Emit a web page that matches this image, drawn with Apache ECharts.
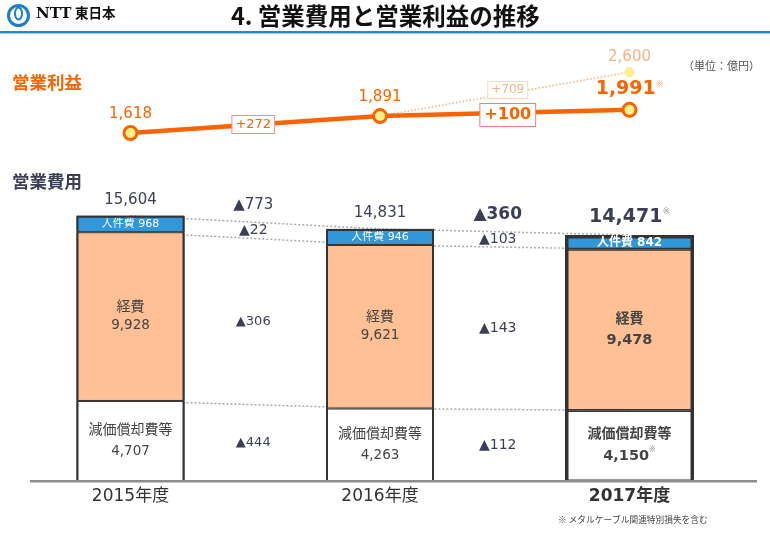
<!doctype html>
<html>
<head>
<meta charset="utf-8" />
<script src="https://cdn.jsdelivr.net/npm/echarts@6/dist/echarts.min.js"></script>
<style>
html, body { margin: 0; padding: 0; background: #fff; }
#chart { width: 770px; height: 533px; }
</style>
</head>
<body>
<div id="chart"></div>
<script>
const fiscalYears = ['2015年度', '2016年度', '2017年度'];

const profit = [1618, 1891, 1991];
const profitTarget = [null, 1891, 2600];
const profitChange = [272, 100];
const targetChange = 709;

const totalCost = [15604, 14831, 14471];
const staffCost = [968, 946, 842];
const expense = [9928, 9621, 9478];
const depreciation = [4707, 4263, 4150];

const totalChange = [773, 360];
const staffChange = [22, 103];
const expenseChange = [306, 143];
const depreciationChange = [444, 112];

const FONT = '"DejaVu Sans", "Noto Sans CJK JP", sans-serif';
const ORANGE = '#f96400';
const PALE_ORANGE = '#fbb07a';
const NAVY = '#3a3f55';
const GAP_POS = [1, 2]; // the space between two category bands on the 0-3 value axes
const GAP_NUDGE = [-2, -7];
const BAR_WIDTH = 108;
const BAR_WIDTH_LAST = 129;

const fmt = v => v.toLocaleString('en-US');
const mean = (a, b) => (a + b) / 2;

// cumulative heights of the stack, used for connectors and the ▲ labels
const expenseTop = depreciation.map((v, i) => v + expense[i]);
const staffTop = expenseTop.map((v, i) => v + staffCost[i]);

function gapData(values, heightAt, size, bold) {
    return values.map((v, i) => ({
        value: [GAP_POS[i], heightAt(i)],
        change: v,
        label: {
            show: true, position: 'inside', offset: [GAP_NUDGE[i], 0], fontFamily: FONT, color: NAVY,
            fontSize: size(i), fontWeight: bold(i) ? 'bold' : 'normal',
            formatter: '▲' + fmt(v)
        }
    }));
}

function gapSeries(data) {
    return {
        type: 'scatter', xAxisIndex: 4, yAxisIndex: 1, symbolSize: 1, z: 6, silent: true,
        itemStyle: { color: 'transparent', opacity: 1 }, data: data
    };
}

function connector(values) {
    return {
        type: 'line', xAxisIndex: 2, yAxisIndex: 1, data: values, symbol: 'none', z: 1, silent: true,
        lineStyle: { color: '#aaa', width: 1.5, type: [2, 2] }
    };
}

function costBars(yearIdx, name, values, fill, barLabel, axisIdx, width, border) {
    return {
        type: 'bar', xAxisIndex: axisIdx, yAxisIndex: 1, stack: 'cost' + axisIdx, barWidth: width, z: 2,
        name: name,
        data: values.map((v, i) => yearIdx.includes(i) ? v : null),
        itemStyle: { color: fill, borderColor: '#333', borderWidth: border },
        label: barLabel
    };
}

// heavier outer edge around each stack, open at the bottom where the baseline runs
function renderFrame(params, api) {
    const i = api.value(0);
    const base = api.coord([i, 0]);
    const top = api.coord([i, api.value(1)]);
    const lineWidth = i === 2 ? 3.5 : 2;
    const half = (i === 2 ? BAR_WIDTH_LAST : BAR_WIDTH) / 2 - lineWidth / 2;
    return {
        type: 'polyline',
        shape: {
            points: [
                [base[0] - half, base[1]],
                [base[0] - half, top[1] + lineWidth / 2],
                [base[0] + half, top[1] + lineWidth / 2],
                [base[0] + half, base[1]]
            ]
        },
        style: { fill: 'none', stroke: '#333', lineWidth: lineWidth }
    };
}

const staffLabel = { show: true, position: 'inside', color: '#fff', fontFamily: FONT, fontSize: 11,
    formatter: p => '人件費 ' + fmt(p.value) };

function stackedLabel(title, bold, gap, note) {
    const w = bold ? 'bold' : 'normal';
    return {
        show: true, position: 'inside', fontFamily: FONT,
        formatter: p => '{t|' + title + '}\n{n|' + fmt(p.value) + '}' + (note ? '{s|※}' : ''),
        rich: {
            t: { fontFamily: FONT, fontSize: 14, fontWeight: w, color: '#444', lineHeight: gap },
            n: { fontFamily: FONT, fontSize: bold ? 14.5 : 13.5, fontWeight: w, color: '#444', lineHeight: gap },
            s: { fontFamily: FONT, fontSize: 8, color: '#999', verticalAlign: 'top', lineHeight: gap }
        }
    };
}

function changeBox(pos, height, text, color, border, size, bold, offset) {
    return {
        value: [pos, height],
        label: {
            show: true, position: 'inside', offset: offset, formatter: text, color: color, fontFamily: FONT, fontSize: size,
            fontWeight: bold ? 'bold' : 'normal', backgroundColor: '#fff', borderColor: border, borderWidth: 1,
            padding: bold ? [3, 4] : [2, 3]
        }
    };
}

const option = {
    animation: false,
    backgroundColor: '#fff',
    textStyle: { fontFamily: FONT },
    grid: [
        { left: 5.75, width: 748.5, top: 47.3, height: 124 },
        { left: 5.75, width: 748.5, top: 192, height: 289 }
    ],
    xAxis: [
        { type: 'category', gridIndex: 0, data: fiscalYears, show: false },
        { type: 'value', gridIndex: 0, min: 0, max: 3, show: false },
        {
            type: 'category', gridIndex: 1, data: fiscalYears,
            axisLine: { show: false }, axisTick: { show: false },
            axisLabel: {
                margin: 7, color: '#333', fontFamily: FONT, fontSize: 17,
                formatter: (v, i) => i === 2 ? '{b|' + v + '}' : v,
                rich: { b: { fontFamily: FONT, fontSize: 17, fontWeight: 'bold', color: '#333' } }
            }
        },
        { type: 'category', gridIndex: 1, data: fiscalYears, show: false },
        { type: 'value', gridIndex: 1, min: 0, max: 3, show: false }
    ],
    yAxis: [
        { type: 'value', gridIndex: 0, min: 1000, max: 3000, show: false },
        { type: 'value', gridIndex: 1, min: 0, max: 17000, show: false }
    ],
    series: [
        // 営業利益
        {
            type: 'line', xAxisIndex: 0, yAxisIndex: 0, data: profitTarget, z: 2, silent: true,
            lineStyle: { color: PALE_ORANGE, width: 1.5, type: [1.5, 2] },
            symbol: (v, p) => p.dataIndex === 2 ? 'circle' : 'none', symbolSize: 9,
            itemStyle: { color: '#fff08a', borderColor: '#fbd27a', borderWidth: 1, borderType: 'dotted' },
            label: {
                show: true, position: 'top', distance: 2, color: PALE_ORANGE, fontFamily: FONT, fontSize: 15,
                formatter: p => p.dataIndex === 2 ? fmt(p.value) : ''
            }
        },
        {
            type: 'line', xAxisIndex: 0, yAxisIndex: 0, data: profit, z: 3, silent: true,
            lineStyle: { color: ORANGE, width: 4.5 },
            symbol: 'circle', symbolSize: 13,
            itemStyle: { color: '#fff08a', borderColor: ORANGE, borderWidth: 3 },
            label: {
                show: true, position: 'top', distance: 3, color: ORANGE, fontFamily: FONT, fontSize: 15,
                formatter: p => p.dataIndex === 2 ? '{b|' + fmt(p.value) + '}{s|※}' : fmt(p.value),
                rich: {
                    b: { fontFamily: FONT, fontSize: 19, fontWeight: 'bold', color: ORANGE },
                    s: { fontFamily: FONT, fontSize: 9, color: PALE_ORANGE, verticalAlign: 'top' }
                }
            }
        },
        {
            type: 'scatter', xAxisIndex: 1, yAxisIndex: 0, symbolSize: 1, z: 5, silent: true,
            itemStyle: { color: 'transparent', opacity: 1 },
            data: [
                changeBox(GAP_POS[0], mean(profit[0], profit[1]), '+' + profitChange[0], ORANGE, '#f08f88', 13, false, [-2, 0]),
                changeBox(GAP_POS[1], mean(profit[1], profit[2]), '+' + profitChange[1], ORANGE, '#ee7f78', 16, true, [3, 2]),
                changeBox(GAP_POS[1], mean(profitTarget[1], profitTarget[2]), '+' + targetChange, PALE_ORANGE, '#fbd6b8', 12, false, [3, -4])
            ]
        },

        // 営業費用: dotted connectors sit behind the bars
        connector(depreciation),
        connector(expenseTop),
        connector(staffTop),

        costBars([0, 1], '減価償却費等', depreciation, '#fff', stackedLabel('減価償却費等', false, 21), 2, BAR_WIDTH, 1),
        costBars([0, 1], '経費', expense, '#fec094', stackedLabel('経費', false, 18), 2, BAR_WIDTH, 1),
        costBars([0, 1], '人件費', staffCost, '#3097db', staffLabel, 2, BAR_WIDTH, 1),

        costBars([2], '減価償却費等', depreciation, '#fff', stackedLabel('減価償却費等', true, 22, true), 3, BAR_WIDTH_LAST, 1.5),
        costBars([2], '経費', expense, '#fec094', stackedLabel('経費', true, 21), 3, BAR_WIDTH_LAST, 1.5),
        costBars([2], '人件費', staffCost, '#3097db', { show: false }, 3, BAR_WIDTH_LAST, 1.5),

        {
            type: 'custom', xAxisIndex: 2, yAxisIndex: 1, z: 3, silent: true, renderItem: renderFrame,
            encode: { x: 0, y: 1 },
            data: staffTop.map((v, i) => [fiscalYears[i], v])
        },

        // 2017 label goes over the heavy frame, the band is thinner than the text
        {
            type: 'scatter', xAxisIndex: 2, yAxisIndex: 1, symbolSize: 1, z: 6, silent: true,
            itemStyle: { color: 'transparent', opacity: 1 },
            data: [[fiscalYears[2], expenseTop[2] + staffCost[2] / 2]],
            label: {
                show: true, position: 'inside', offset: [0, 1], color: '#fff', fontFamily: FONT, fontSize: 12, fontWeight: 'bold',
                formatter: '人件費 ' + fmt(staffCost[2])
            }
        },

        // totals above the stacks
        {
            type: 'scatter', xAxisIndex: 2, yAxisIndex: 1, symbolSize: 1, z: 6, silent: true, data: totalCost,
            itemStyle: { color: 'transparent', opacity: 1 },
            label: {
                show: true, position: 'top', distance: 8, color: NAVY, fontFamily: FONT, fontSize: 15,
                formatter: p => p.dataIndex === 2 ? '{b|' + fmt(p.value) + '}{s|※}' : fmt(p.value),
                rich: {
                    b: { fontFamily: FONT, fontSize: 19, fontWeight: 'bold', color: NAVY },
                    s: { fontFamily: FONT, fontSize: 9, color: '#999', verticalAlign: 'top' }
                }
            }
        },

        // ▲ differences, halfway between the segments they compare
        gapSeries(gapData(totalChange, i => mean(staffTop[i], staffTop[i + 1]) + 1000, i => i === 1 ? 17 : 15, i => i === 1)),
        gapSeries(gapData(staffChange, i => mean(expenseTop[i] + staffCost[i] / 2, expenseTop[i + 1] + staffCost[i + 1] / 2), () => 14, () => false)),
        gapSeries(gapData(expenseChange, i => mean(depreciation[i] + expense[i] / 2, depreciation[i + 1] + expense[i + 1] / 2), i => i === 0 ? 13 : 14, () => false)),
        gapSeries(gapData(depreciationChange, i => mean(depreciation[i], depreciation[i + 1]) / 2, i => i === 0 ? 13 : 14, () => false))
    ],
    graphic: [
        // header
        { type: 'ring', shape: { cx: 18.5, cy: 15.5, r: 11.5, r0: 8.5 }, style: { fill: '#1f7fc4' } },
        { type: 'ellipse', shape: { cx: 18.5, cy: 13.5, rx: 3.5, ry: 6 }, style: { fill: 'none', stroke: '#1f7fc4', lineWidth: 2 } },
        { type: 'text', x: 36, y: 7, style: { text: 'NTT', fontFamily: '"DejaVu Serif"', fontWeight: 'bold', fontSize: 15, fill: '#111' } },
        { type: 'text', x: 75, y: 6, style: { text: '東日本', fontFamily: '"Noto Sans CJK JP"', fontWeight: 'bold', fontSize: 13.5, fill: '#111' } },
        { type: 'text', x: 231, y: 4, style: { text: '4. 営業費用と営業利益の推移', fontFamily: '"Noto Sans CJK JP"', fontWeight: 'bold', fontSize: 23.5, fill: '#111' } },
        { type: 'rect', shape: { x: 0, y: 31, width: 770, height: 2 }, style: { fill: '#2a86c8' } },
        { type: 'rect', shape: { x: 0, y: 33, width: 770, height: 1 }, style: { fill: '#bbb' } },

        // section titles and notes
        { type: 'text', x: 12, y: 74, style: { text: '営業利益', fontFamily: '"Noto Sans CJK JP"', fontWeight: 'bold', fontSize: 17.5, fill: ORANGE } },
        { type: 'text', x: 12, y: 173, style: { text: '営業費用', fontFamily: '"Noto Sans CJK JP"', fontWeight: 'bold', fontSize: 17.5, fill: NAVY } },
        { type: 'text', x: 683, y: 60, style: { text: '（単位：億円）', fontFamily: '"Noto Sans CJK JP"', fontSize: 11, fill: '#555' } },
        { type: 'text', x: 558, y: 515, style: { text: '※ メタルケーブル関連特別損失を含む', fontFamily: '"Noto Sans CJK JP"', fontSize: 8.7, fill: '#444' } },

        // baseline
        { type: 'rect', z: 10, shape: { x: 30, y: 480, width: 727, height: 2.5 }, style: { fill: '#8c8c8c' } }
    ]
};

const chart = echarts.init(document.getElementById('chart'));
chart.setOption(option);
</script>
</body>
</html>
